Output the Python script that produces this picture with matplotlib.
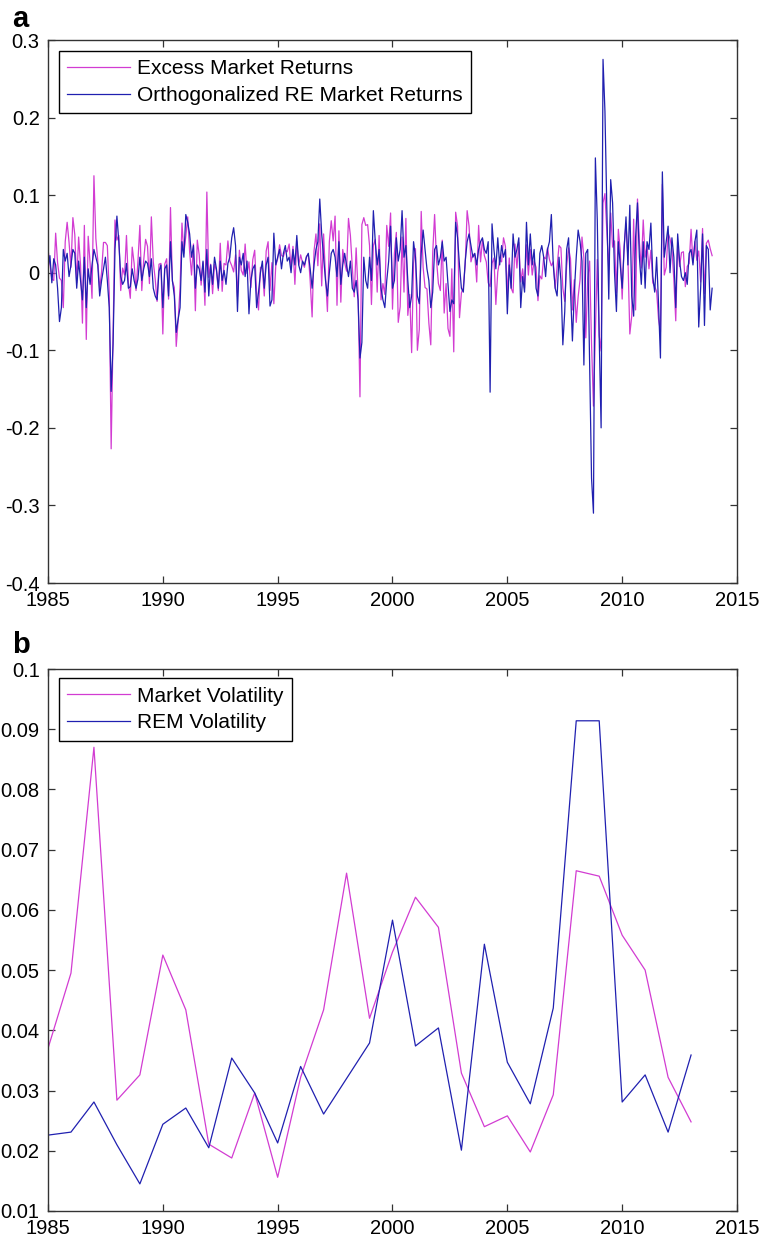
import matplotlib
matplotlib.use('Agg')
import matplotlib.pyplot as plt
import numpy as np

plt.rcParams['font.family'] = ['Liberation Sans', 'DejaVu Sans']

# panel a: monthly returns, Jan 1985 - Dec 2013
excess_mkt = [
    0.030, 0.012, -0.008, -0.010, 0.051, 0.013, -0.007, -0.010, -0.045, 0.040, 0.065, 0.039,
    0.007, 0.071, 0.049, -0.013, 0.046, 0.010, -0.065, 0.061, -0.086, 0.047, 0.012, -0.033,
    0.125, 0.044, 0.016, -0.021, 0.001, 0.039, 0.039, 0.035, -0.026, -0.227, -0.078, 0.068,
    0.042, 0.048, -0.023, 0.006, -0.003, 0.048, -0.013, -0.033, 0.033, 0.012, -0.023, 0.015,
    0.061, -0.023, 0.016, 0.043, 0.034, -0.014, 0.072, 0.014, -0.008, -0.037, 0.011, 0.012,
    -0.079, 0.011, 0.018, -0.034, 0.084, -0.011, -0.019, -0.095, -0.061, -0.019, 0.064, 0.025,
    0.047, 0.072, 0.027, -0.003, 0.037, -0.049, 0.042, 0.023, -0.016, 0.013, -0.042, 0.104,
    -0.006, 0.011, -0.027, 0.011, 0.003, -0.023, 0.038, -0.024, 0.012, 0.010, 0.041, 0.015,
    0.009, 0.001, 0.023, -0.031, 0.029, 0.003, -0.003, 0.037, -0.001, 0.014, -0.019, 0.017,
    0.029, -0.026, -0.048, 0.007, 0.006, -0.030, 0.028, 0.040, -0.023, 0.013, -0.040, 0.009,
    0.018, 0.036, 0.022, 0.021, 0.029, 0.027, 0.037, 0.006, 0.034, -0.015, 0.040, 0.010,
    0.023, 0.013, 0.007, 0.021, 0.024, -0.011, -0.057, 0.028, 0.050, 0.009, 0.063, -0.017,
    0.050, -0.005, -0.050, 0.040, 0.067, 0.041, 0.073, -0.042, 0.054, -0.038, 0.030, 0.013,
    0.002, 0.070, 0.048, 0.007, -0.031, 0.032, -0.025, -0.160, 0.062, 0.071, 0.061, 0.062,
    0.035, -0.041, 0.035, 0.043, -0.025, 0.048, -0.035, -0.014, -0.028, 0.061, 0.034, 0.077,
    -0.047, 0.025, 0.052, -0.064, -0.044, 0.046, -0.025, 0.070, -0.055, -0.028, -0.103, 0.012,
    0.031, -0.100, -0.073, 0.079, 0.007, -0.019, -0.021, -0.065, -0.093, 0.025, 0.075, 0.016,
    -0.014, -0.023, 0.042, -0.052, -0.014, -0.072, -0.082, 0.005, -0.102, 0.078, 0.060, -0.058,
    -0.026, -0.019, 0.011, 0.080, 0.060, 0.014, 0.024, 0.023, -0.012, 0.061, 0.014, 0.043,
    0.022, 0.014, -0.013, -0.018, 0.012, 0.019, -0.041, 0.001, 0.016, 0.014, 0.045, 0.034,
    -0.028, 0.019, -0.020, -0.026, 0.037, 0.006, 0.039, -0.012, 0.005, -0.020, 0.036, -0.003,
    0.030, -0.003, 0.015, 0.007, -0.036, -0.004, -0.008, 0.020, 0.018, 0.032, 0.017, 0.009,
    0.014, -0.020, 0.007, 0.035, 0.032, -0.020, -0.037, 0.009, 0.032, 0.018, -0.048, -0.009,
    -0.064, -0.031, -0.009, 0.046, 0.019, -0.084, -0.008, 0.015, -0.092, -0.172, -0.079, 0.017,
    -0.081, -0.101, 0.090, 0.102, 0.052, 0.004, 0.077, 0.033, 0.041, -0.026, 0.056, 0.028,
    -0.034, 0.034, 0.063, 0.020, -0.079, -0.056, 0.069, -0.048, 0.095, 0.039, 0.006, 0.068,
    0.020, 0.035, 0.005, 0.029, -0.013, -0.018, -0.024, -0.060, -0.076, 0.114, -0.003, 0.007,
    0.051, 0.044, 0.031, -0.009, -0.062, 0.039, 0.008, 0.026, 0.027, -0.018, 0.008, 0.012,
    0.056, 0.013, 0.040, 0.016, 0.028, -0.012, 0.057, -0.027, 0.038, 0.042, 0.031, 0.022,
]

orth_re = [
    0.005, 0.022, -0.013, 0.018, 0.010, -0.020, -0.063, -0.045, 0.030, 0.015, 0.025, -0.005,
    0.010, 0.030, 0.025, -0.020, 0.015, -0.010, -0.035, 0.020, -0.045, 0.005, -0.015, 0.010,
    0.030, 0.020, 0.010, -0.030, -0.010, 0.005, 0.020, -0.010, -0.045, -0.153, -0.092, 0.030,
    0.073, 0.040, -0.005, -0.015, -0.010, 0.012, -0.020, -0.018, 0.005, -0.010, -0.020, -0.008,
    0.020, -0.010, 0.005, 0.015, 0.012, -0.005, 0.018, -0.020, -0.030, -0.035, 0.002, 0.010,
    -0.045, 0.005, 0.010, -0.030, 0.040, -0.010, -0.030, -0.077, -0.060, -0.045, 0.040, 0.020,
    0.075, 0.065, 0.050, 0.020, 0.035, -0.020, 0.010, 0.005, -0.010, 0.015, -0.025, 0.030,
    -0.030, 0.010, -0.015, 0.020, 0.005, -0.020, 0.015, -0.010, 0.003, -0.015, 0.012, 0.020,
    0.045, 0.058, 0.035, -0.050, 0.020, 0.010, 0.025, -0.005, 0.015, -0.053, -0.010, 0.005,
    0.010, -0.045, -0.025, 0.000, 0.015, -0.020, 0.010, 0.020, -0.043, -0.035, 0.051, 0.010,
    0.020, 0.030, 0.005, 0.025, 0.035, 0.015, 0.020, 0.000, 0.030, 0.010, 0.048, 0.010,
    0.000, 0.015, 0.010, 0.020, 0.025, 0.005, -0.020, 0.010, 0.030, 0.040, 0.095, 0.050,
    0.020, -0.010, -0.030, 0.000, 0.025, 0.030, 0.020, -0.005, 0.040, -0.015, 0.010, 0.025,
    0.010, -0.005, 0.015, -0.020, -0.025, -0.010, -0.035, -0.110, -0.090, 0.020, -0.010, -0.020,
    0.020, -0.010, 0.080, 0.040, 0.010, 0.030, -0.020, -0.035, -0.045, -0.010, 0.015, 0.060,
    -0.020, -0.010, 0.045, 0.015, 0.030, 0.080, 0.020, 0.035, -0.010, -0.045, -0.030, 0.040,
    0.020, -0.030, -0.040, 0.025, 0.055, 0.030, 0.005, -0.010, -0.045, -0.025, 0.030, 0.035,
    0.010, 0.020, 0.040, 0.015, 0.020, -0.015, -0.050, -0.035, -0.040, 0.065, 0.045, 0.010,
    -0.020, -0.025, 0.015, 0.040, 0.050, 0.035, 0.020, 0.025, 0.010, 0.030, 0.040, 0.045,
    0.030, 0.025, 0.040, -0.154, 0.063, 0.030, 0.005, 0.045, 0.010, 0.035, 0.020, 0.030,
    -0.053, 0.010, -0.020, 0.050, 0.020, 0.030, 0.045, -0.045, -0.005, -0.025, 0.065, 0.010,
    0.050, 0.010, 0.030, -0.020, -0.030, 0.025, 0.035, 0.020, -0.005, 0.030, 0.040, 0.075,
    0.010, -0.020, -0.030, 0.020, -0.010, -0.093, -0.050, 0.030, 0.045, -0.020, -0.088, -0.025,
    0.020, 0.055, 0.040, 0.015, -0.119, 0.025, 0.030, -0.120, -0.265, -0.310, 0.148, 0.068,
    -0.083, -0.200, 0.275, 0.208, 0.081, -0.034, 0.120, 0.090, 0.000, -0.050, 0.040, 0.010,
    -0.020, 0.030, 0.072, 0.010, 0.087, -0.030, -0.056, 0.045, 0.090, 0.020, -0.015, 0.040,
    -0.020, 0.040, 0.030, 0.064, -0.005, -0.025, 0.020, -0.040, -0.110, 0.130, 0.020, 0.040,
    0.060, 0.000, 0.045, 0.020, -0.045, 0.050, 0.015, -0.005, -0.010, 0.000, -0.015, 0.025,
    0.030, 0.010, 0.040, 0.055, -0.070, -0.020, 0.050, -0.068, 0.035, 0.030, -0.048, -0.020,
]

# panel b: yearly volatilities 1985-2013
years = list(range(1985, 2014))
mkt_vol = [0.0370, 0.0495, 0.0870, 0.0284, 0.0326, 0.0525, 0.0434, 0.0211, 0.0188, 0.0296,
           0.0156, 0.0322, 0.0434, 0.0661, 0.0420, 0.0530, 0.0621, 0.0571, 0.0329, 0.0240,
           0.0258, 0.0198, 0.0293, 0.0665, 0.0656, 0.0558, 0.0500, 0.0322, 0.0248]
rem_vol = [0.0226, 0.0231, 0.0281, 0.0210, 0.0145, 0.0244, 0.0271, 0.0205, 0.0354, 0.0296,
           0.0213, 0.0340, 0.0261, 0.0320, 0.0379, 0.0583, 0.0374, 0.0404, 0.0201, 0.0543,
           0.0347, 0.0278, 0.0437, 0.0914, 0.0914, 0.0281, 0.0326, 0.0231, 0.0359]

a_yticks = [-0.4, -0.3, -0.2, -0.1, 0, 0.1, 0.2, 0.3]
a_ylabels = ['-0.4', '-0.3', '-0.2', '-0.1', '0', '0.1', '0.2', '0.3']
b_yticks = [0.01, 0.02, 0.03, 0.04, 0.05, 0.06, 0.07, 0.08, 0.09, 0.1]
b_ylabels = ['0.01', '0.02', '0.03', '0.04', '0.05', '0.06', '0.07', '0.08', '0.09', '0.1']
xticks = [1985, 1990, 1995, 2000, 2005, 2010, 2015]

MAG = '#d23cd2'
BLUE = '#2020b0'

months = 1985 + np.arange(len(excess_mkt)) / 12.0

fig = plt.figure(figsize=(7.59, 12.40), dpi=100)


def style_axes(ax):
    for s in ax.spines.values():
        s.set_color('#333333')
        s.set_linewidth(1.0)
    ax.tick_params(direction='in', top=True, right=True, length=5, width=0.9,
                   color='#333333', labelsize=14.5, pad=6)
    ax.set_xlim(1985, 2015)
    ax.set_xticks(xticks)
    ax.set_xticklabels([str(t) for t in xticks])


def add_legend(ax, y_anchor):
    leg = ax.legend(loc='upper left', bbox_to_anchor=(0.016, y_anchor), fontsize=15,
                    fancybox=False, framealpha=1, edgecolor='black', borderaxespad=0,
                    handlelength=3.0, handletextpad=0.35, labelspacing=0.38,
                    borderpad=0.4)
    leg.get_frame().set_linewidth(1.0)
    return leg


ax1 = fig.add_axes([48 / 759, 1 - 583 / 1240, 689 / 759, 543 / 1240])
ax1.plot(months, excess_mkt, color=MAG, lw=0.9, label='Excess Market Returns')
ax1.plot(months, orth_re, color=BLUE, lw=0.9, label='Orthogonalized RE Market Returns')
style_axes(ax1)
ax1.set_ylim(-0.4, 0.3)
ax1.set_yticks(a_yticks)
ax1.set_yticklabels(a_ylabels)
add_legend(ax1, 0.98)

ax2 = fig.add_axes([48 / 759, 1 - 1211 / 1240, 689 / 759, 542 / 1240])
ax2.plot(years, mkt_vol, color=MAG, lw=0.9, label='Market Volatility')
ax2.plot(years, rem_vol, color=BLUE, lw=0.9, label='REM Volatility')
style_axes(ax2)
ax2.set_ylim(0.01, 0.1)
ax2.set_yticks(b_yticks)
ax2.set_yticklabels(b_ylabels)
add_legend(ax2, 0.983)

fig.text(12 / 759, 1 - 27 / 1240, 'a', fontsize=21, fontweight='bold', va='baseline')
fig.text(12 / 759, 1 - 653 / 1240, 'b', fontsize=21, fontweight='bold', va='baseline')

fig.savefig('out.png', dpi=100)
